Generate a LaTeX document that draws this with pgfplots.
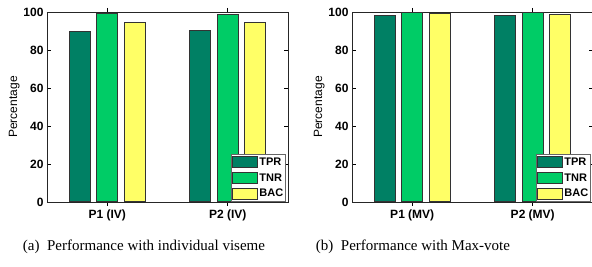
\documentclass[border=0pt]{standalone}
\usepackage{pgfplots}
\pgfplotsset{compat=1.18}
\usepackage{fontspec}
\setmainfont{Liberation Serif}
\newfontfamily\hv{Liberation Sans}
\definecolor{cTPR}{RGB}{0,128,100}
\definecolor{cTNR}{RGB}{0,204,102}
\definecolor{cBAC}{RGB}{255,255,102}
\pgfplotsset{
  mystyle/.style={
    scale only axis, width=241pt, height=190pt,
    xmin=0.5, xmax=2.5, ymin=0, ymax=100,
    xtick={1,2}, ytick={0,20,40,60,80,100},
    tick align=inside, major tick length=4pt,
    tick style={black, line width=0.6pt},
    axis line style={line width=0.7pt, black!85},
    ybar=6.5pt, bar width=21pt,
    tick label style={font=\hv\bfseries\fontsize{12}{13}\selectfont},
    /pgf/number format/assume math mode=true,
    ylabel={\hv\fontsize{12}{13}\selectfont Percentage},
    ylabel style={yshift=-3pt},
    legend style={at={(1,0)}, anchor=south east, xshift=-2pt, draw=black!60, line width=0.6pt,
      font=\hv\bfseries\fontsize{11}{12}\selectfont, inner xsep=1pt, inner ysep=2pt,
      row sep=4pt, cells={anchor=west}, nodes={inner xsep=1.5pt, inner ysep=1pt}},
    legend image code/.code={\draw[#1, line width=0.8pt] (0pt,-5.5pt) rectangle (25pt,5.5pt);},
    every axis plot/.append style={draw=black!80, line width=1pt},
  }
}
\begin{document}
\begin{tikzpicture}[x=1pt,y=1pt]
\begin{axis}[mystyle, at={(47pt,65pt)}, anchor=south west,
  xticklabels={P1 (IV), P2 (IV)}]
\addplot[fill=cTPR] coordinates {(1,89.9) (2,90.2)};
\addplot[fill=cTNR] coordinates {(1,99.1) (2,98.6)};
\addplot[fill=cBAC] coordinates {(1,94.6) (2,94.4)};
\legend{TPR,TNR,BAC}
\end{axis}
\begin{axis}[mystyle, at={(352pt,65pt)}, anchor=south west,
  xticklabels={P1 (MV), P2 (MV)}]
\addplot[fill=cTPR] coordinates {(1,98.3) (2,98.1)};
\addplot[fill=cTNR] coordinates {(1,99.9) (2,99.6)};
\addplot[fill=cBAC] coordinates {(1,99.1) (2,98.8)};
\legend{TPR,TNR,BAC}
\end{axis}
\node[font=\fontsize{15}{17}\selectfont, anchor=center] at (144pt,20pt) {(a)\ \ Performance with individual viseme};
\node[font=\fontsize{15}{17}\selectfont, anchor=center] at (413pt,20pt) {(b)\ \ Performance with Max-vote};
\pgfresetboundingbox
\useasboundingbox (0,0) rectangle (592pt,267pt);
\end{tikzpicture}
\end{document}
